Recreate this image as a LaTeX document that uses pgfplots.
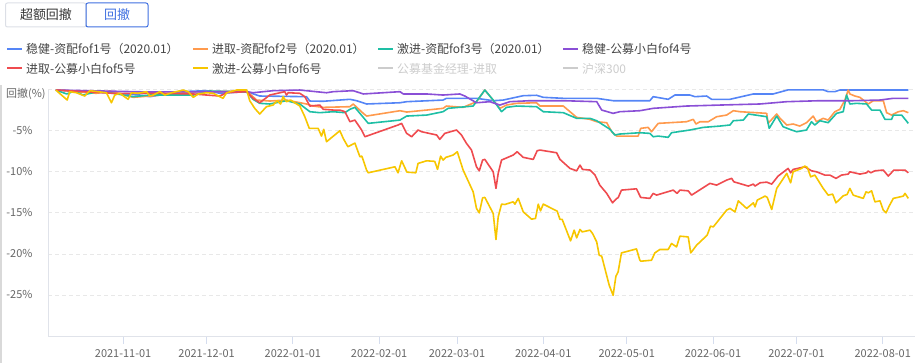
\documentclass[border=0pt]{standalone}
\usepackage{fontspec}
\setmainfont{Noto Sans CJK SC}
\usepackage{pgfplots}
\pgfplotsset{compat=1.18}
\definecolor{cBlue}{HTML}{5585F6}
\definecolor{cOrange}{HTML}{FF9A4D}
\definecolor{cTeal}{HTML}{1EBFA5}
\definecolor{cPurple}{HTML}{8A4FD6}
\definecolor{cRed}{HTML}{EF4B4F}
\definecolor{cYellow}{HTML}{F7C600}
\definecolor{cOff}{HTML}{CCCCCC}
\definecolor{txt}{HTML}{444444}
\definecolor{lab}{HTML}{666666}
\definecolor{axgrey}{HTML}{E0E3EA}
\definecolor{tickc}{HTML}{D5DDEE}
\definecolor{gridc}{HTML}{E8E8E8}
\definecolor{btnb}{HTML}{DCDFE6}
\definecolor{btnblue}{HTML}{3F6FE0}
\newcommand\legitem[5]{%
  \draw[#3, line width=2bp] (#1bp,#2bp) -- ++(14.5bp,0);
  \node[anchor=west, inner sep=0, font=\fontsize{12}{14}\selectfont, text=#4] at (#1bp+19bp,#2bp) {#5};}
\begin{document}
\begin{tikzpicture}
\useasboundingbox (0,0) rectangle (923bp,363bp);
\fill[black!15] (0,0) rectangle (2bp,278bp);
% buttons
\draw[btnb, line width=1bp, rounded corners=2bp] (5.5bp,336bp) rectangle (86bp,360bp);
\node[font=\fontsize{13}{15}\selectfont, text=black!80] at (46bp,348bp) {超额回撤};
\draw[btnblue, line width=1bp, rounded corners=2bp] (86bp,336bp) rectangle (148bp,360bp);
\node[font=\fontsize{13}{15}\selectfont, text=btnblue] at (117bp,348bp) {回撤};
% legend
\legitem{7}{314}{cBlue}{txt}{稳健-资配fof1号（2020.01）}
\legitem{193}{314}{cOrange}{txt}{进取-资配fof2号（2020.01）}
\legitem{378}{314}{cTeal}{txt}{激进-资配fof3号（2020.01）}
\legitem{563}{314}{cPurple}{txt}{稳健-公募小白fof4号}
\legitem{7}{294.5}{cRed}{txt}{进取-公募小白fof5号}
\legitem{193}{294.5}{cYellow}{txt}{激进-公募小白fof6号}
\legitem{378}{294.5}{cOff}{cOff}{公募基金经理-进取}
\legitem{563}{294.5}{cOff}{cOff}{沪深300}
\node[anchor=west, inner sep=0, font=\fontsize{11}{13}\selectfont, text=lab] at (6bp,268.7bp) {回撤(\%)};
\begin{axis}[
  at={(48bp,27bp)}, anchor=south west, scale only axis,
  width=867bp, height=246.3bp,
  xmin=-27, xmax=284.6, ymin=-30, ymax=0,
  axis lines=left, axis line style={draw=axgrey, line width=1bp, -},
  xtick={0,30,61,92,120,151,181,212,242,273},
  xticklabels={2021-11-01,2021-12-01,2022-01-01,2022-02-01,2022-03-01,2022-04-01,2022-05-01,2022-06-01,2022-07-01,2022-08-01},
  ytick={-30,-25,-20,-15,-10,-5,0},
  yticklabels={,-25\%,-20\%,-15\%,-10\%,-5\%,},
  ymajorgrids, grid style={gridc, dash pattern=on 4bp off 3bp, line width=0.8bp},
  tick align=outside, major tick length=8bp,
  x tick style={draw=tickc, line width=0.8bp},
  y tick style={draw=none},
  tick label style={font=\fontsize{11}{13}\selectfont, text=lab},
  xticklabel style={yshift=-2bp},
  yticklabel style={xshift=-4bp},
  clip=false,
  every axis plot/.append style={line width=1.6bp, line join=round, no markers},
]
\addplot[cBlue] coordinates {(-24.2,-0.04)(-6.0,-0.37)(6.0,-0.65)(9.6,-0.85)(20.4,-0.24)(30.0,-0.12)(34.8,-0.44)(44.4,-0.24)(49.1,-0.77)(65.9,-0.85)(67.1,-1.38)(71.9,-1.41)(81.5,-1.17)(83.9,-1.34)(87.5,-1.74)(99.5,-1.59)(101.9,-1.46)(115.0,-1.26)(116.2,-1.05)(127.0,-1.05)(133.0,-1.34)(136.6,-1.26)(143.8,-0.73)(148.6,-0.68)(151.0,-0.93)(158.2,-1.05)(170.2,-1.05)(176.1,-1.34)(189.3,-1.34)(190.5,-0.85)(195.9,-1.17)(198.3,-0.65)(203.7,-0.65)(205.5,-0.85)(209.7,-0.77)(211.5,-1.17)(218.1,-1.17)(226.5,-0.52)(233.6,-0.52)(239.0,-0.02)(251.6,-0.02)(253.4,-0.24)(255.8,-0.24)(257.6,-0.04)(282.2,-0.04)};
\addplot[cOrange] coordinates {(-24.2,-0.04)(-9.6,-0.44)(-4.8,-0.16)(3.6,-0.93)(9.6,-0.77)(25.2,-0.28)(44.4,-0.16)(48.0,-1.26)(52.7,-1.38)(58.7,-1.26)(65.9,-1.74)(68.3,-1.99)(71.9,-2.15)(81.5,-2.07)(82.7,-1.74)(86.3,-2.88)(87.5,-3.21)(99.5,-2.56)(101.9,-2.72)(109.1,-2.48)(115.0,-2.27)(116.2,-1.99)(122.2,-2.15)(127.0,-1.46)(130.0,-0.04)(135.4,-2.27)(137.8,-1.87)(141.4,-1.66)(148.6,-1.59)(149.8,-1.99)(158.2,-1.99)(163.0,-3.37)(167.8,-3.61)(170.2,-3.90)(173.8,-4.02)(175.6,-5.12)(177.4,-5.65)(185.1,-5.65)(186.0,-4.71)(188.7,-4.59)(189.9,-5.12)(192.3,-4.10)(202.5,-3.90)(204.9,-3.61)(205.9,-4.18)(207.3,-3.90)(210.3,-3.90)(213.3,-3.29)(216.9,-3.09)(219.3,-2.56)(221.7,-2.68)(231.3,-2.88)(231.8,-4.10)(234.9,-2.96)(236.1,-3.49)(238.5,-4.30)(240.8,-4.18)(243.2,-4.43)(245.6,-4.02)(248.0,-3.21)(249.2,-3.90)(251.6,-3.49)(253.4,-3.70)(255.8,-2.68)(257.6,-2.39)(259.4,-1.26)(260.6,-0.04)(261.2,-0.52)(263.0,-0.77)(264.8,-0.93)(267.8,-1.74)(269.6,-1.34)(273.2,-1.34)(274.4,-2.80)(276.2,-3.09)(278.6,-2.68)(280.4,-2.56)(282.2,-2.80)};
\addplot[cTeal] coordinates {(-24.2,-0.04)(-20.3,-0.52)(-17.4,-0.16)(-14.4,-0.65)(-8.4,-0.16)(3.6,-0.85)(9.6,-0.65)(25.2,-0.65)(31.2,-0.16)(44.4,-0.28)(46.7,-1.17)(49.1,-1.66)(52.7,-1.74)(58.7,-1.34)(63.5,-1.74)(67.1,-2.68)(70.7,-2.80)(75.5,-2.68)(79.7,-2.80)(81.5,-2.39)(83.3,-2.15)(85.1,-2.88)(88.1,-4.10)(99.5,-3.70)(101.9,-3.21)(109.1,-3.09)(115.0,-2.68)(116.8,-2.27)(125.8,-1.99)(130.0,-0.04)(133.0,-1.26)(136.0,-2.68)(137.8,-2.15)(141.4,-1.99)(148.6,-2.07)(151.0,-2.68)(158.2,-2.80)(163.0,-3.49)(167.8,-3.49)(170.2,-3.78)(175.0,-4.83)(176.7,-5.52)(178.5,-5.40)(185.7,-5.24)(189.3,-5.32)(190.5,-5.73)(192.3,-5.65)(195.9,-5.80)(197.1,-5.24)(203.7,-4.91)(208.5,-4.59)(214.5,-4.43)(218.1,-4.30)(219.3,-3.78)(222.9,-3.70)(224.7,-2.96)(231.3,-3.29)(232.2,-4.71)(234.9,-3.21)(237.2,-4.51)(239.6,-4.83)(242.1,-5.12)(245.6,-4.91)(247.4,-3.90)(248.6,-4.30)(250.4,-3.78)(253.4,-4.02)(256.4,-2.88)(258.8,-2.68)(260.0,-0.65)(261.2,-1.74)(263.6,-1.66)(267.2,-1.74)(269.0,-2.48)(272.0,-2.48)(273.8,-3.61)(276.2,-3.61)(276.8,-3.09)(279.8,-3.09)(282.2,-4.10)};
\addplot[cPurple] coordinates {(-24.2,-0.04)(9.6,-0.28)(44.4,-0.24)(46.7,-0.37)(53.9,-0.12)(63.5,-0.04)(73.1,-0.37)(75.5,-0.24)(82.7,-0.12)(86.3,-0.52)(99.5,-0.24)(100.7,-0.52)(109.1,-0.52)(115.0,-0.65)(121.0,-0.52)(122.8,-0.77)(127.0,-1.59)(131.8,-1.46)(135.4,-1.87)(139.0,-1.46)(146.2,-1.34)(158.2,-1.34)(170.2,-1.46)(172.0,-2.48)(176.1,-2.88)(178.5,-2.68)(185.7,-2.56)(190.5,-2.27)(202.5,-1.99)(214.5,-1.87)(228.9,-1.74)(238.5,-1.46)(250.4,-1.34)(262.4,-1.34)(272.0,-1.26)(276.8,-1.05)(282.2,-1.05)};
\addplot[cRed] coordinates {(-24.2,-0.04)(-3.6,-0.44)(13.2,-0.44)(25.2,-0.52)(30.0,-0.65)(34.8,-0.77)(37.2,-0.37)(44.4,-0.24)(46.7,-1.05)(49.1,-1.59)(52.7,-0.65)(58.1,-0.24)(58.7,-0.65)(59.3,-0.37)(63.5,-0.44)(65.3,-0.85)(67.1,-1.99)(70.7,-1.87)(71.9,-2.39)(75.5,-2.48)(77.9,-2.48)(79.7,-2.68)(81.5,-3.90)(83.3,-3.70)(85.7,-4.91)(86.9,-5.73)(98.8,-4.30)(100.1,-4.10)(101.9,-5.32)(103.7,-5.73)(106.0,-4.91)(107.3,-5.12)(112.7,-5.52)(113.8,-6.05)(115.6,-5.32)(119.8,-4.91)(121.6,-5.52)(123.4,-6.54)(125.2,-7.35)(127.0,-9.39)(128.0,-9.88)(129.2,-8.57)(130.0,-8.49)(133.0,-10.00)(134.0,-12.02)(134.8,-10.19)(136.0,-8.57)(140.2,-7.96)(141.6,-7.56)(143.8,-8.24)(147.4,-8.49)(148.8,-7.44)(149.8,-7.35)(155.8,-7.68)(157.0,-8.49)(160.6,-9.59)(163.0,-9.88)(164.2,-9.18)(165.1,-9.71)(167.8,-9.79)(169.6,-10.40)(171.3,-11.62)(173.8,-12.63)(175.9,-13.78)(177.4,-13.24)(177.9,-13.17)(179.1,-12.23)(184.5,-12.07)(186.0,-13.12)(189.3,-13.24)(190.5,-12.63)(191.7,-12.84)(197.7,-12.23)(199.1,-12.63)(200.1,-12.23)(203.1,-12.32)(204.3,-12.84)(210.9,-11.41)(213.3,-11.62)(216.9,-11.01)(218.7,-10.80)(219.5,-11.22)(224.7,-11.74)(226.5,-11.50)(227.1,-11.74)(228.9,-11.34)(231.3,-11.26)(233.1,-11.50)(235.4,-10.52)(239.0,-9.59)(239.9,-10.12)(240.8,-9.71)(245.0,-9.39)(247.4,-9.88)(249.2,-10.00)(252.2,-10.40)(254.0,-10.40)(256.2,-10.80)(258.2,-10.40)(260.6,-10.28)(261.2,-10.00)(264.8,-10.28)(267.2,-10.12)(267.8,-9.91)(268.7,-10.12)(270.2,-9.88)(273.2,-9.79)(275.0,-10.52)(277.0,-9.79)(281.0,-9.79)(282.2,-10.12)};
\addplot[cYellow] coordinates {(-24.2,-0.04)(-20.1,-1.26)(-19.2,-0.24)(-16.8,-0.37)(-13.8,-0.77)(-12.0,-0.12)(-6.0,-0.37)(-4.2,-1.59)(-3.0,-0.65)(-1.2,-0.44)(1.8,-1.17)(3.0,-0.37)(5.4,-0.44)(8.4,-0.24)(9.6,-0.77)(10.8,-0.65)(13.2,-0.24)(15.0,-0.65)(17.4,-0.37)(21.6,-0.04)(23.4,-0.24)(25.2,-0.93)(27.0,-0.52)(30.0,-0.37)(32.4,-0.44)(35.9,-1.05)(37.2,-0.37)(40.8,-0.04)(44.4,-0.04)(45.5,-1.34)(47.3,-2.27)(49.1,-2.96)(51.5,-2.07)(53.9,-1.87)(55.4,-1.34)(56.6,-1.74)(57.5,-0.85)(58.7,-1.46)(60.2,-1.26)(63.5,-1.99)(65.3,-3.29)(66.9,-4.71)(70.1,-4.71)(71.3,-5.65)(72.1,-4.83)(73.1,-6.34)(77.9,-5.00)(79.1,-5.93)(80.8,-6.95)(83.3,-6.50)(85.1,-8.17)(85.8,-8.09)(87.5,-9.79)(88.1,-10.12)(97.7,-9.39)(98.8,-10.12)(100.1,-8.66)(102.0,-10.04)(105.2,-10.12)(106.0,-8.98)(109.1,-8.66)(112.0,-8.73)(113.0,-9.71)(114.1,-8.09)(115.0,-8.57)(116.0,-8.24)(118.6,-7.96)(120.1,-7.56)(122.2,-9.79)(125.8,-12.44)(127.0,-14.46)(128.0,-15.00)(129.2,-13.17)(130.0,-13.12)(133.0,-15.07)(134.0,-18.24)(134.8,-15.49)(136.0,-13.94)(137.2,-13.98)(140.2,-13.66)(140.8,-13.94)(142.0,-13.24)(143.8,-14.88)(146.8,-15.77)(148.2,-15.68)(149.2,-13.94)(150.0,-14.76)(151.0,-13.94)(156.0,-14.79)(157.0,-15.80)(157.8,-15.80)(160.8,-18.41)(162.1,-17.11)(163.0,-18.05)(164.2,-17.02)(165.0,-17.32)(167.8,-17.11)(168.7,-17.51)(170.2,-18.54)(171.1,-20.16)(172.0,-20.28)(174.7,-23.82)(176.1,-25.04)(177.1,-22.72)(177.9,-22.19)(179.1,-19.88)(184.5,-19.39)(185.7,-20.77)(186.1,-20.89)(189.9,-20.77)(191.1,-19.88)(192.9,-19.46)(195.9,-19.46)(197.1,-18.73)(198.9,-19.15)(200.1,-17.84)(203.1,-17.93)(204.0,-19.88)(206.1,-18.94)(209.9,-17.72)(211.1,-16.62)(212.1,-16.71)(216.9,-14.67)(218.1,-14.46)(219.9,-14.88)(221.1,-13.54)(224.1,-14.46)(226.5,-13.78)(227.1,-14.27)(227.9,-13.45)(230.7,-12.96)(231.5,-13.12)(233.1,-14.59)(234.9,-12.02)(238.5,-10.19)(239.9,-11.34)(240.8,-10.00)(243.8,-9.59)(245.0,-9.30)(245.9,-9.46)(247.1,-10.61)(248.6,-10.40)(251.6,-12.02)(253.4,-12.84)(255.0,-12.72)(256.2,-13.78)(258.8,-12.93)(260.2,-12.76)(261.2,-12.02)(262.4,-12.84)(266.0,-13.24)(267.0,-12.44)(267.8,-12.56)(269.0,-12.32)(270.2,-13.66)(272.0,-13.54)(273.2,-14.67)(274.2,-15.00)(275.3,-14.18)(276.8,-13.24)(280.4,-12.96)(281.0,-12.63)(282.2,-13.24)};
\end{axis}
\end{tikzpicture}
\end{document}
